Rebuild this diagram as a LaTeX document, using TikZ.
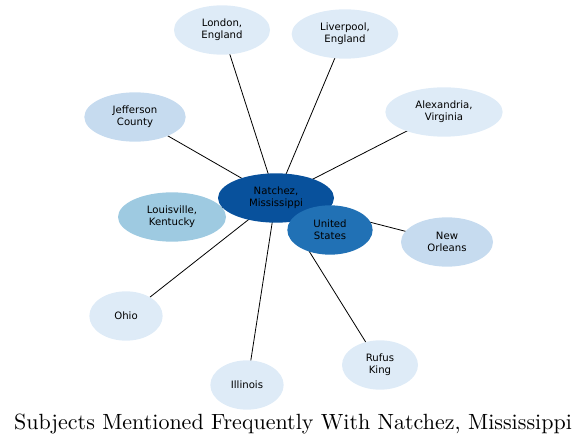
\documentclass[tikz,border=0pt]{standalone}
\usepackage{fontspec}
\newfontfamily\bubfont{DejaVu Sans}
\usetikzlibrary{shapes.geometric,backgrounds}
\definecolor{blueA}{HTML}{DEEBF7}
\definecolor{blueB}{HTML}{C6DBEF}
\definecolor{blueC}{HTML}{9ECAE1}
\definecolor{blueD}{HTML}{2171B5}
\definecolor{blueE}{HTML}{08519C}
\tikzset{
  bub/.style={ellipse, inner sep=0pt, minimum height=37pt, minimum width=#1,
    align=center, font=\bubfont\fontsize{7.6}{9}\selectfont},
  link/.style={line width=0.6pt, black}
}

\begin{document}
\begin{tikzpicture}[x=0.75pt,y=-0.75pt]
        \useasboundingbox (0,0) rectangle (588,445);
        \node[bub=72pt, fill=blueA] (london) at (222,30) {London,\\England};
        \node[bub=80pt, fill=blueA] (liverpool) at (345,34) {Liverpool,\\England};
        \node[bub=76pt, fill=blueB] (jefferson) at (135,117) {Jefferson\\County};
        \node[bub=88pt, fill=blueA] (alexandria) at (444,112) {Alexandria,\\Virginia};
        \node[bub=81pt, fill=blueC] (louisville) at (172,217) {Louisville,\\Kentucky};
        \node[bub=87pt, fill=blueE] (natchez) at (276,198) {Natchez,\\Mississippi};
        \node[bub=64pt, fill=blueD] (us) at (330,230) {United\\States};
        \node[bub=69pt, fill=blueB] (neworleans) at (447,242) {New\\Orleans};
        \node[bub=55pt, fill=blueA] (ohio) at (126,316) {Ohio};
        \node[bub=55pt, fill=blueA] (illinois) at (247,385) {Illinois};
        \node[bub=57pt, fill=blueA] (rufus) at (380,365) {Rufus\\King};
        \node (title) at (293,424)
            {\scalebox{1.65}{Subjects Mentioned Frequently With Natchez, Mississippi}};
        \begin{scope}[on background layer]
        \foreach \n in {london,liverpool,jefferson,alexandria,louisville,us,neworleans,ohio,illinois,rufus}
            \draw[link] (natchez.center)--(\n.center);
        \end{scope}
    \end{tikzpicture}
\end{document}
